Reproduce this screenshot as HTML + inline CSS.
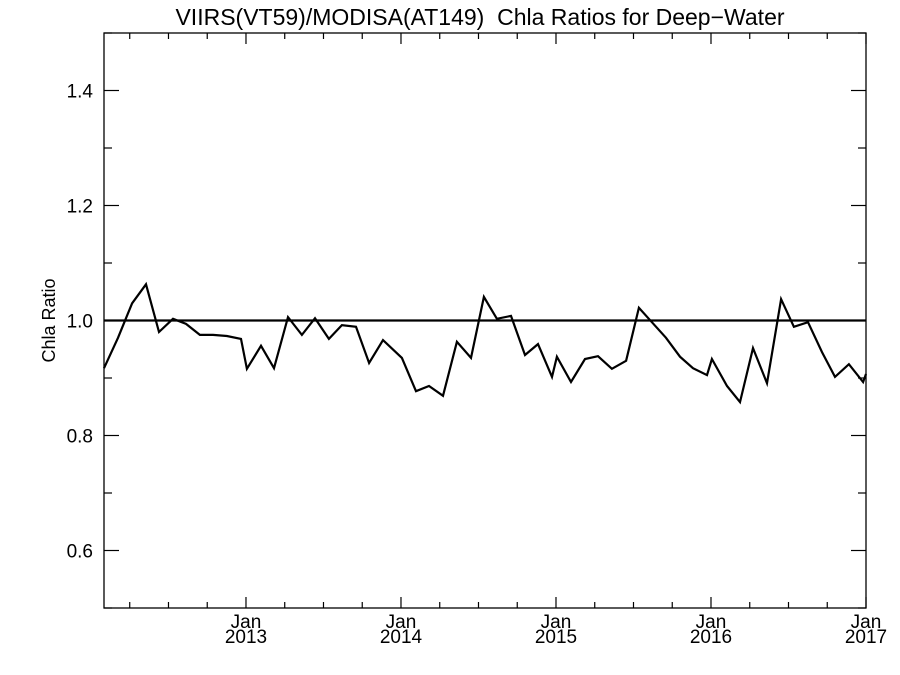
<!DOCTYPE html>
<html><head><meta charset="utf-8"><style>
body{margin:0;background:#fff;}
svg{display:block;font-family:"Liberation Sans",sans-serif;}
</style></head><body>
<svg id="chart" width="900" height="675" viewBox="0 0 900 675" xmlns="http://www.w3.org/2000/svg">
<text x="480" y="25" font-size="23" text-anchor="middle" style="white-space:pre" xml:space="preserve">VIIRS(VT59)/MODISA(AT149)  Chla Ratios for Deep−Water</text>
<text x="0" y="0" font-size="18" text-anchor="middle" transform="translate(55,320.5) rotate(-90)">Chla Ratio</text>
<g id="axes"></g>
<g id="series"></g>
</svg>
<script>
const dates=[2012.084,2012.174,2012.265,2012.355,2012.439,2012.529,2012.613,2012.703,2012.787,2012.877,2012.968,2013.006,2013.097,2013.181,2013.271,2013.361,2013.445,2013.535,2013.619,2013.710,2013.794,2013.884,2014.006,2014.097,2014.181,2014.271,2014.361,2014.452,2014.535,2014.619,2014.710,2014.800,2014.884,2014.974,2015.006,2015.097,2015.187,2015.271,2015.361,2015.452,2015.535,2015.619,2015.710,2015.800,2015.884,2015.974,2016.006,2016.103,2016.187,2016.271,2016.361,2016.452,2016.535,2016.626,2016.716,2016.800,2016.890,2016.981,2017.0];
const ratios=[0.917,0.970,1.030,1.063,0.980,1.003,0.994,0.975,0.975,0.973,0.968,0.916,0.956,0.917,1.006,0.975,1.004,0.968,0.992,0.989,0.926,0.966,0.935,0.877,0.886,0.869,0.963,0.935,1.041,1.003,1.008,0.940,0.959,0.902,0.937,0.893,0.933,0.938,0.916,0.930,1.022,0.997,0.970,0.937,0.917,0.905,0.933,0.886,0.858,0.952,0.891,1.037,0.989,0.997,0.945,0.902,0.924,0.893,0.907];
const yTicks=[0.6,0.8,1.0,1.2,1.4];
const yTickLabels=["0.6","0.8","1.0","1.2","1.4"];
const xYears=[2013,2014,2015,2016,2017];
const refValue=1.0;

const L=104,R=866,T=33,B=608;
const xMin=2012.084,xMax=2017.0,yMin=0.5,yMax=1.5;
const xs=v=>L+(v-xMin)/(xMax-xMin)*(R-L);
const ys=v=>B-(v-yMin)/(yMax-yMin)*(B-T);
const NS="http://www.w3.org/2000/svg";
const axes=document.getElementById('axes'),series=document.getElementById('series');
function mk(tag,attrs,parent){const e=document.createElementNS(NS,tag);for(const k in attrs)e.setAttribute(k,attrs[k]);parent.appendChild(e);return e;}

const frame=mk('rect',{x:L,y:T,width:R-L,height:B-T,fill:'none',stroke:'#000','stroke-width':1.3},axes);



for(let v=0.5;v<=1.5001;v+=0.1){
  const y=ys(v);const major=Math.abs(Math.round(v*10)%2)===0;const len=major?15:8;
  const t1=mk('line',{x1:L,x2:L+len,y1:y,y2:y,stroke:'#000','stroke-width':1.2},axes);
  
  
  const t2=mk('line',{x1:R,x2:R-len,y1:y,y2:y,stroke:'#000','stroke-width':1.2},axes);
  
  
}
yTicks.forEach((v,i)=>{
  const t=mk('text',{x:L-11,y:ys(v)+7,'font-size':19,'text-anchor':'end'},axes);
  t.textContent=yTickLabels[i];
  
  
});
for(let q=2012.25;q<=2017.001;q+=0.25){
  const x=xs(q);if(x<L)continue;const major=Math.abs(q-Math.round(q))<0.01;const len=major?11:6;
  const t1=mk('line',{x1:x,x2:x,y1:B,y2:B-len,stroke:'#000','stroke-width':1.2},axes);
  
  
  const t2=mk('line',{x1:x,x2:x,y1:T,y2:T+len,stroke:'#000','stroke-width':1.2},axes);
  
  
}
xYears.forEach(yr=>{
  const x=xs(yr);
  const a=mk('text',{x:x,y:628,'font-size':19,'text-anchor':'middle'},axes);a.textContent='Jan';
  
  
  const b=mk('text',{x:x,y:643,'font-size':19,'text-anchor':'middle'},axes);b.textContent=String(yr);
  
  
});
const ref=mk('line',{x1:L,x2:R,y1:ys(refValue),y2:ys(refValue),stroke:'#000','stroke-width':2.2},series);


const pts=dates.map((d,i)=>xs(d).toFixed(1)+','+ys(ratios[i]).toFixed(1)).join(' ');
const line=mk('polyline',{points:pts,fill:'none',stroke:'#000','stroke-width':2.2,'stroke-linejoin':'miter'},series);


</script>
</body></html>
